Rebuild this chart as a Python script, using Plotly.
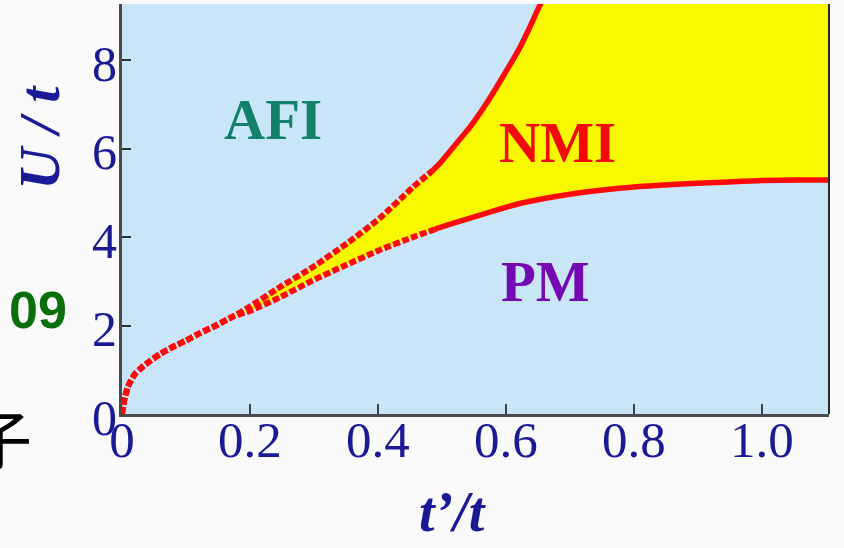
import plotly.graph_objects as go

# Phase boundaries of the frustrated Hubbard model, U/t versus t'/t
# AFI / NMI boundary (dashed part, then solid part)
afi_t_dash = [0.0, 0.002, 0.005, 0.009, 0.014, 0.02, 0.03, 0.044, 0.06, 0.08, 0.10,
              0.122, 0.148, 0.173, 0.20, 0.247, 0.298, 0.352, 0.403, 0.455, 0.486]
afi_U_dash = [0.0, 0.2, 0.4, 0.6, 0.76, 0.9, 1.04, 1.2, 1.36, 1.52, 1.66,
              1.83, 2.01, 2.2, 2.43, 2.87, 3.32, 3.86, 4.43, 5.13, 5.51]
afi_t_solid = [0.486, 0.497, 0.52, 0.544, 0.57, 0.595, 0.622, 0.6375, 0.653, 0.656]
afi_U_solid = [5.51, 5.67, 6.07, 6.49, 7.03, 7.62, 8.29, 8.75, 9.24, 9.32]

# NMI / PM boundary (dashed part, then solid part)
pm_t_dash = [0.0, 0.002, 0.005, 0.009, 0.014, 0.02, 0.03, 0.044, 0.06, 0.08, 0.10,
             0.122, 0.148, 0.173, 0.20, 0.247, 0.298, 0.352, 0.403, 0.455, 0.488]
pm_U_dash = [0.0, 0.2, 0.4, 0.6, 0.76, 0.9, 1.04, 1.2, 1.36, 1.52, 1.66,
             1.83, 2.01, 2.2, 2.33, 2.64, 3.02, 3.38, 3.71, 4.0, 4.17]
pm_t_solid = [0.488, 0.508, 0.544, 0.585, 0.625, 0.70, 0.781, 0.86, 0.9375, 1.0, 1.06, 1.105]
pm_U_solid = [4.17, 4.27, 4.43, 4.61, 4.77, 4.97, 5.11, 5.19, 5.24, 5.28, 5.29, 5.29]

x_tick_vals = [0, 0.2, 0.4, 0.6, 0.8, 1.0]
x_tick_text = ["0", "0.2", "0.4", "0.6", "0.8", "1.0"]
y_tick_vals = [0, 2, 4, 6, 8]
y_tick_text = ["0", "2", "4", "6", "8"]

X_MAX = 1.105
U_MAX = 9.27

phase_labels = ["AFI", "NMI", "PM"]
phase_t = [0.236, 0.680, 0.6625]
phase_U = [6.66, 6.13, 3.0]
phase_colors = ["#12806a", "#f20a0a", "#7308b4"]

RED = "#ff0a0a"
BLUE_TXT = "#1a1a96"
SERIF = "Liberation Serif, Times New Roman, serif"

fig = go.Figure()

# NMI region: between the two boundaries, open to the top right
fill_t = afi_t_dash + afi_t_solid + [X_MAX + 0.05, X_MAX + 0.05] + pm_t_solid[::-1] + pm_t_dash[::-1]
fill_U = afi_U_dash + afi_U_solid + [U_MAX + 0.5, pm_U_solid[-1]] + pm_U_solid[::-1] + pm_U_dash[::-1]
fig.add_trace(go.Scatter(x=fill_t, y=fill_U, fill="toself", fillcolor="#f8f800",
                         mode="lines", line=dict(width=0), hoverinfo="skip",
                         showlegend=False))

for tx, uy, dash, w in [(afi_t_dash, afi_U_dash, "7px,2.5px", 6),
                        (pm_t_dash, pm_U_dash, "7px,2.5px", 6),
                        (afi_t_solid, afi_U_solid, "solid", 5.5),
                        (pm_t_solid, pm_U_solid, "solid", 5.5)]:
    fig.add_trace(go.Scatter(x=tx, y=uy, mode="lines",
                             line=dict(color=RED, width=w, dash=dash, shape="spline",
                                       smoothing=0.6),
                             showlegend=False, hoverinfo="skip"))

for lab, tx, uy, col in zip(phase_labels, phase_t, phase_U, phase_colors):
    fig.add_annotation(x=tx, y=uy, text=f"<b>{lab}</b>", showarrow=False,
                       font=dict(family=SERIF, size=57, color=col),
                       xanchor="center", yanchor="middle")

# Axis titles
fig.add_annotation(xref="paper", yref="paper", x=-0.116, y=0.676,
                   text="<b><i>U / t</i></b>", textangle=-90, showarrow=False,
                   font=dict(family=SERIF, size=58, color=BLUE_TXT),
                   xanchor="center", yanchor="middle")
fig.add_annotation(xref="paper", yref="paper", x=0.467, y=-0.24,
                   text="<b><i>t’/t</i></b>", showarrow=False,
                   font=dict(family=SERIF, size=56, color=BLUE_TXT),
                   xanchor="center", yanchor="middle")

# Side captions
fig.add_annotation(xref="paper", yref="paper", x=-0.119, y=0.253,
                   text="<b>09</b>", showarrow=False,
                   font=dict(family="Liberation Sans, Arial, sans-serif", size=52, color="#0a6e0a"),
                   xanchor="center", yanchor="middle")
fig.add_annotation(xref="paper", yref="paper", x=-0.173, y=-0.053,
                   text="子", showarrow=False,
                   font=dict(family="Noto Sans CJK SC", size=64, color="#000000"),
                   xanchor="center", yanchor="middle")

# Right frame line
fig.add_shape(type="line", xref="paper", yref="paper", x0=1, x1=1, y0=0, y1=1,
              line=dict(color="#2a2a2a", width=2))

fig.update_xaxes(range=[0, X_MAX], tickvals=x_tick_vals, ticktext=x_tick_text,
                 ticks="inside", ticklen=10, tickwidth=2, tickcolor="#404040",
                 showline=True, linecolor="#4a4a4a", linewidth=3,
                 showgrid=False, zeroline=False, ticklabelstandoff=-21,
                 tickfont=dict(family=SERIF, size=51, color=BLUE_TXT))
fig.update_yaxes(range=[0, U_MAX], tickvals=y_tick_vals, ticktext=y_tick_text,
                 ticks="inside", ticklen=9, tickwidth=2, tickcolor="#303030",
                 showline=True, linecolor="#4a4a4a", linewidth=3,
                 showgrid=False, zeroline=False, ticklabelstandoff=-8,
                 ticklabelshift=3,
                 tickfont=dict(family=SERIF, size=50, color=BLUE_TXT))

fig.update_layout(width=844, height=548,
                  margin=dict(l=122, r=15, t=4, b=134),
                  plot_bgcolor="#c8e6f8", paper_bgcolor="#fafafa",
                  showlegend=False)

fig.write_html("out.html")
